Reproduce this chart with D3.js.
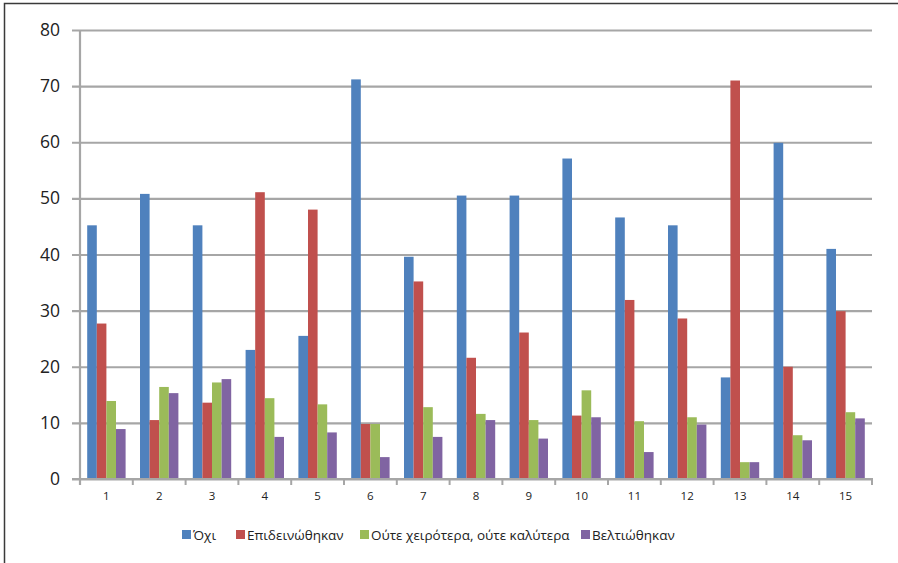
<!DOCTYPE html>
<html>
<head>
<meta charset="utf-8">
<script src="https://cdn.jsdelivr.net/npm/d3@7"></script>
<style>
  html, body { margin: 0; padding: 0; background: #fff; }
  svg { display: block; }
</style>
</head>
<body>
<svg id="chart" width="898" height="563"></svg>
<script>
// Groups along the x axis
const categories = ["1","2","3","4","5","6","7","8","9","10","11","12","13","14","15"];
// Series names (legend order)
const seriesNames = ["Όχι", "Επιδεινώθηκαν", "Ούτε χειρότερα, ούτε καλύτερα", "Βελτιώθηκαν"];
// Values per series, one per category
const ochi        = [45.2, 50.8, 45.2, 23.0, 25.5, 71.2, 39.6, 50.5, 50.5, 57.1, 46.6, 45.2, 18.1, 59.9, 41.0];
const epideinothi = [27.7, 10.5, 13.6, 51.1, 48.0,  9.8, 35.2, 21.6, 26.1, 11.3, 31.9, 28.6, 71.0, 20.0, 29.9];
const oute        = [13.9, 16.4, 17.2, 14.4, 13.3,  9.8, 12.8, 11.6, 10.5, 15.8, 10.3, 11.0,  3.0,  7.8, 11.9];
const veltiothi   = [ 8.9, 15.3, 17.8,  7.5,  8.3,  3.9,  7.5, 10.5,  7.2, 11.0,  4.8,  9.7,  3.0,  6.9, 10.8];
const yTicks = [0, 10, 20, 30, 40, 50, 60, 70, 80];
const colors = ["#4F81BD", "#C0504D", "#9BBB59", "#8064A2"];

const seriesValues = [ochi, epideinothi, oute, veltiothi];

const svg = d3.select("#chart");
const font = "'Open Sans', 'Noto Sans', sans-serif";
const gridColor = "#A6A6A6";

// Outer chart frame
svg.append("rect")
  .attr("x", 4.5).attr("y", 3.5)
  .attr("width", 960).attr("height", 600)
  .attr("fill", "none").attr("stroke", "#3a3a3a").attr("stroke-width", 1.5);

const plot = { left: 80, right: 872, top: 30, bottom: 479 };

const x = d3.scaleBand()
  .domain(categories)
  .range([plot.left, plot.right])
  .paddingInner(0)
  .paddingOuter(0);

const barW = x.bandwidth() / 5.5;
const x1 = d3.scaleBand()
  .domain(d3.range(seriesNames.length))
  .range([barW * 0.75, x.bandwidth() - barW * 0.75]);

const y = d3.scaleLinear().domain([0, 80]).range([plot.bottom, plot.top]);

// Horizontal gridlines with left tick stubs
const yAxis = d3.axisLeft(y).tickValues(yTicks).tickSize(-(plot.right - plot.left)).tickPadding(14).tickSizeOuter(0);
const gy = svg.append("g").attr("transform", `translate(${plot.left},0)`).call(yAxis);
gy.select(".domain").remove();
gy.selectAll(".tick line").attr("stroke", gridColor).attr("stroke-width", 2.2).attr("x1", -8);
gy.selectAll(".tick text")
  .attr("font-family", font).attr("font-size", 17.5).attr("fill", "#222")
  .attr("x", -20);

// Vertical axis line
svg.append("line")
  .attr("x1", plot.left).attr("x2", plot.left)
  .attr("y1", plot.top).attr("y2", plot.bottom + 6)
  .attr("stroke", gridColor).attr("stroke-width", 2.2);

// Bars
const groups = svg.append("g").selectAll("g")
  .data(categories)
  .join("g")
  .attr("transform", d => `translate(${x(d)},0)`);

groups.selectAll("rect")
  .data((c, i) => seriesValues.map((vals, s) => ({ s, v: vals[i] })))
  .join("rect")
  .attr("x", d => x1(d.s))
  .attr("width", x1.bandwidth())
  .attr("y", d => y(d.v))
  .attr("height", d => y(0) - y(d.v))
  .attr("fill", d => colors[d.s]);

// Category axis
const xAxis = d3.axisBottom(x).tickSize(0).tickPadding(13);
const gx = svg.append("g").attr("transform", `translate(0,${plot.bottom})`).call(xAxis);
gx.select(".domain").remove();
gx.selectAll(".tick text").attr("font-family", font).attr("font-size", 11.5).attr("fill", "#222");

svg.append("line")
  .attr("x1", plot.left - 8).attr("x2", plot.right + 1)
  .attr("y1", plot.bottom).attr("y2", plot.bottom)
  .attr("stroke", gridColor).attr("stroke-width", 2.2);

// Tick marks between categories
const bounds = categories.map(c => x(c)).concat([plot.right]);
svg.append("g").selectAll("line")
  .data(bounds)
  .join("line")
  .attr("x1", d => d).attr("x2", d => d)
  .attr("y1", plot.bottom).attr("y2", plot.bottom + 6)
  .attr("stroke", gridColor).attr("stroke-width", 2);

// Legend
const legendX = [182, 236, 360, 581];
const legend = svg.append("g").selectAll("g")
  .data(seriesNames)
  .join("g")
  .attr("transform", (d, i) => `translate(${legendX[i]},535)`);
legend.append("rect")
  .attr("x", 0).attr("y", -5).attr("width", 9).attr("height", 9)
  .attr("fill", (d, i) => colors[i]);
legend.append("text")
  .attr("x", 11).attr("y", 0).attr("dy", "0.35em")
  .attr("font-family", font).attr("font-size", 13.5).attr("fill", "#222")
  .text(d => d);
</script>
</body>
</html>
